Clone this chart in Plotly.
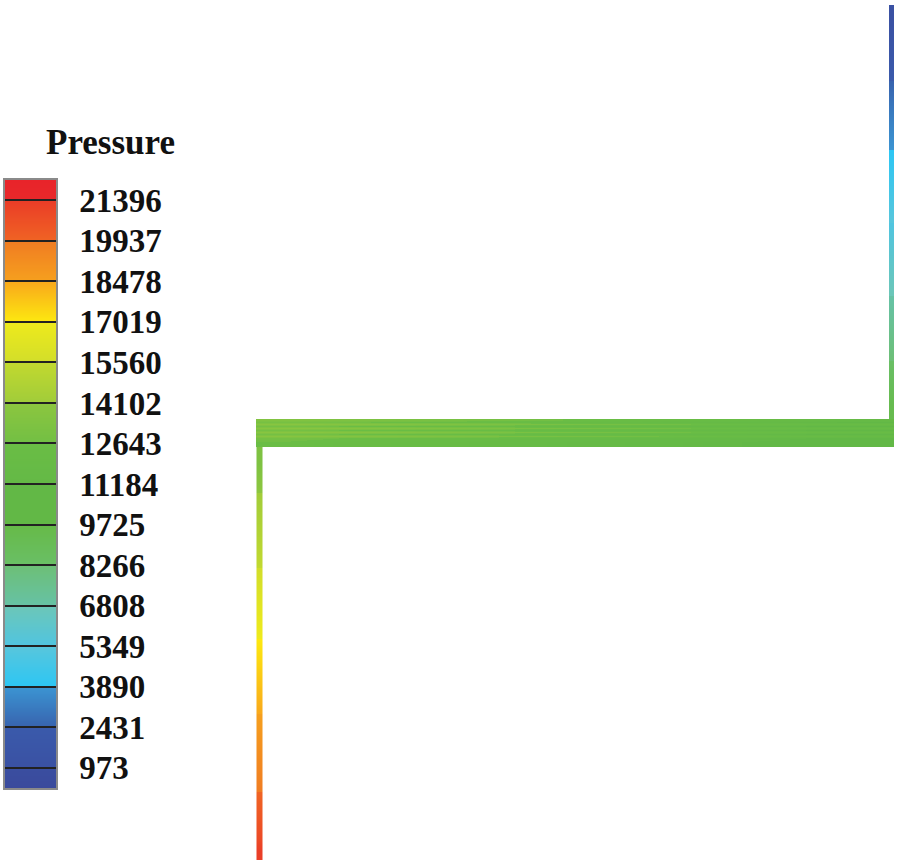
import plotly.graph_objects as go

# ---------------- legend (colour bar) ----------------
legend_title = "Pressure"
level_values = [973, 2431, 3890, 5349, 6808, 8266, 9725, 11184,
                12643, 14102, 15560, 17019, 18478, 19937, 21396]
level_labels = [str(v) for v in level_values]
p_min = 243.6
p_max = 22125.4

# (bottom colour, top colour) of each band, bottom band first
band_colors = [
    ("#3a4a9c", "#3a4ea0"),
    ("#3a51a3", "#3a5aab"),
    ("#3863ae", "#3b94d2"),
    ("#2cc6f4", "#58c6dc"),
    ("#50c5e0", "#6cc6b8"),
    ("#66c2a6", "#6dbf76"),
    ("#6abf66", "#66ba48"),
    ("#62b846", "#62b846"),
    ("#64b946", "#6abd45"),
    ("#72bf44", "#8cc63f"),
    ("#a0cc3a", "#c2d92f"),
    ("#d2de2a", "#eeea1c"),
    ("#fde910", "#f9a81b"),
    ("#f6a01e", "#f07c22"),
    ("#f06424", "#ea3c27"),
    ("#e8282a", "#e8242a"),
]

# ---------------- pipe pressures (read along the pipe) ----------------
# left riser: y edges (image px, bottom -> top) and pressure of each segment
left_x_edges = [256.5, 259.2, 262]
left_y_edges = [860, 840, 800, 760, 720, 680, 640, 600, 560, 520, 480, 447]
left_pressure = [21300, 20500, 19700, 19000, 18200, 17400, 16700, 15800, 15000, 14300, 13300]

# horizontal run: x edges and pressure along it; stripes across its width
horiz_x_edges = [256, 320, 384, 448, 512, 576, 640, 704, 768, 832, 894]
horiz_pressure = [12600, 12400, 12200, 12000, 11800, 11600, 11400, 11200, 11000, 10800]
horiz_y_edges = [419, 421, 423, 425, 427, 429, 431, 433, 435, 437, 439, 441, 443, 445, 447]
horiz_stripe = [900, 300, 1300, 200, 1300, 200, 1300, 200, 1200, 200, 100, 0, 0, 0]

# right riser: y edges (bottom -> top) and pressure of each segment
right_x_edges = [889, 891.5, 894]
right_y_edges = [419, 390, 360, 330, 300, 270, 240, 210, 180, 150, 120, 90, 60, 30, 5]
right_pressure = [9400, 8600, 7900, 7200, 6600, 6000, 5400, 4800, 4200, 3600, 3000, 2300, 1600, 1000]

# ---------------- colour scale ----------------
band_edges = [p_min] + level_values + [p_max]


def norm(v):
    return (v - p_min) / (p_max - p_min)


colorscale = []
for i, (c_lo, c_hi) in enumerate(band_colors):
    colorscale.append([norm(band_edges[i]), c_lo])
    colorscale.append([norm(band_edges[i + 1]), c_hi])
colorscale[0][0] = 0.0
colorscale[-1][0] = 1.0

fig = go.Figure()

# pipes
fig.add_trace(go.Heatmap(
    x=left_x_edges, y=left_y_edges,
    z=[[p, p] for p in left_pressure],
    coloraxis="coloraxis", zsmooth="best", hoverinfo="skip",
))
fig.add_trace(go.Heatmap(
    x=horiz_x_edges, y=horiz_y_edges,
    z=[[p + s for p in horiz_pressure] for s in horiz_stripe],
    coloraxis="coloraxis", zsmooth="best", hoverinfo="skip",
))
fig.add_trace(go.Heatmap(
    x=right_x_edges, y=right_y_edges,
    z=[[p, p] for p in right_pressure],
    coloraxis="coloraxis", zsmooth="best", hoverinfo="skip",
))

# legend bar
fig.add_trace(go.Heatmap(
    x=[0, 1], y=band_edges,
    z=[[v, v] for v in band_edges],
    coloraxis="coloraxis", zsmooth="best", hoverinfo="skip",
    xaxis="x2", yaxis="y2",
))

label_font = dict(family="Liberation Serif", size=33, color="#111111", weight="bold")

fig.update_layout(
    width=900, height=865,
    margin=dict(l=0, r=0, t=0, b=0),
    paper_bgcolor="white", plot_bgcolor="rgba(0,0,0,0)",
    showlegend=False,
    coloraxis=dict(colorscale=colorscale, cmin=p_min, cmax=p_max, showscale=False),
    xaxis=dict(domain=[0, 1], range=[0, 900], visible=False, fixedrange=True),
    yaxis=dict(domain=[0, 1], range=[865, 0], visible=False, fixedrange=True),
    xaxis2=dict(domain=[5 / 900, 56 / 900], range=[-0.5, 1.5], anchor="y2",
                showline=True, mirror=True, linecolor="#8a8a8a", linewidth=1.5,
                showticklabels=False, ticks="", showgrid=False, zeroline=False),
    yaxis2=dict(domain=[(865 - 788) / 865, (865 - 180) / 865], range=[p_min, p_max],
                anchor="x2", side="right",
                tickvals=level_values, ticktext=level_labels,
                ticks="inside", ticklen=51, tickwidth=1.5, tickcolor="#222222",
                showline=True, mirror=True, linecolor="#8a8a8a", linewidth=1.5,
                showgrid=False, zeroline=False, layer="above traces",
                ticklabelstandoff=15, tickfont=label_font),
    annotations=[dict(
        text=legend_title, xref="paper", yref="paper",
        x=110 / 900, y=(865 - 142) / 865, xanchor="center", yanchor="middle",
        showarrow=False,
        font=dict(family="Liberation Serif", size=35, color="#111111", weight="bold"),
    )],
)

fig.write_html(
    "out.html",
    config={"displayModeBar": False},
    post_script="document.body.style.margin='0';document.body.style.overflow='hidden';",
)
